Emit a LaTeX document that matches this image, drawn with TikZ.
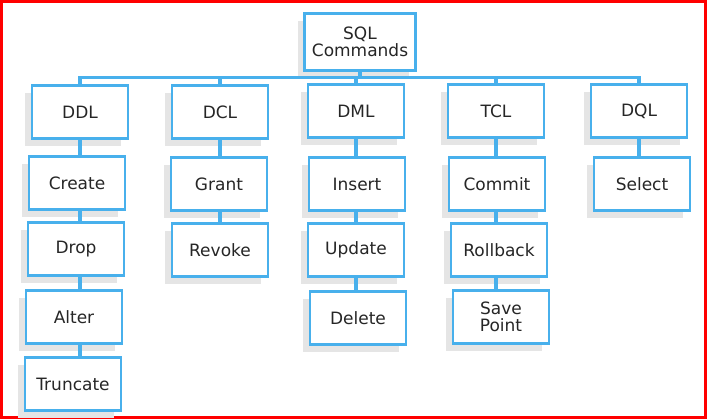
\documentclass[tikz,border=0pt]{standalone}
\usepackage{fontspec}
\setmainfont{DejaVu Sans}
\usepackage{tikz}
\usetikzlibrary{shadows}
\definecolor{sqlblue}{RGB}{72,176,236}

\begin{document}
\begin{tikzpicture}[x=1pt,y=-1pt]
    \tikzstyle{box}=[draw=sqlblue,line width=2.6pt,fill=white,minimum width=96pt,minimum height=53pt,inner sep=2pt,align=center,
      font=\fontsize{17}{16.5}\selectfont,text=black!85,
      drop shadow={shadow xshift=-7pt,shadow yshift=-8pt,fill=black!10,opacity=1}]
    \tikzstyle{link}=[draw=sqlblue,line width=3.2pt]
    \useasboundingbox (0,0) rectangle (707,419);
    \draw [red, line width=3pt] (1.5,1.5) rectangle (705.5,417.5);
    \node[box,minimum width=111pt,minimum height=57pt] (N_SQL) at (360,42) {SQL\\Commands};
    \node[box] (N_DDL) at (80,112) {DDL};
    \node[box] (N_DCL) at (220,112) {DCL};
    \node[box] (N_DML) at (356,111) {DML};
    \node[box] (N_TCL) at (496,111) {TCL};
    \node[box] (N_DQL) at (639,111) {DQL};
    \node[box] (N_Create) at (77,183) {Create};
    \node[box] (N_Drop) at (76,249) {Drop};
    \node[box] (N_Alter) at (74,317) {Alter};
    \node[box] (N_Truncate) at (73,384) {Truncate};
    \node[box] (N_Grant) at (219,184) {Grant};
    \node[box] (N_Revoke) at (220,250) {Revoke};
    \node[box] (N_Insert) at (357,184) {Insert};
    \node[box] (N_Update) at (356,250) {Update};
    \node[box] (N_Delete) at (358,318) {Delete};
    \node[box] (N_Commit) at (497,184) {Commit};
    \node[box] (N_Rollback) at (499,250) {Rollback};
    \node[box] (N_SavePoint) at (501,317) {Save\\Point};
    \node[box] (N_Select) at (642,184) {Select};
    \draw [link] (N_SQL.south) -- ++(0,6) -| (N_DDL.north);
    \draw [link] (N_SQL.south) -- ++(0,6) -| (N_DCL.north);
    \draw [link] (N_SQL.south) -- ++(0,6) -| (N_DML.north);
    \draw [link] (N_SQL.south) -- ++(0,6) -| (N_TCL.north);
    \draw [link] (N_SQL.south) -- ++(0,6) -| (N_DQL.north);
    \draw [link] (N_DDL.south) -- (N_DDL.south |- N_Create.north);
    \draw [link] (N_DDL.south |- N_Create.south) -- (N_DDL.south |- N_Drop.north);
    \draw [link] (N_DDL.south |- N_Drop.south) -- (N_DDL.south |- N_Alter.north);
    \draw [link] (N_DDL.south |- N_Alter.south) -- (N_DDL.south |- N_Truncate.north);
    \draw [link] (N_DCL.south) -- (N_DCL.south |- N_Grant.north);
    \draw [link] (N_DCL.south |- N_Grant.south) -- (N_DCL.south |- N_Revoke.north);
    \draw [link] (N_DML.south) -- (N_DML.south |- N_Insert.north);
    \draw [link] (N_DML.south |- N_Insert.south) -- (N_DML.south |- N_Update.north);
    \draw [link] (N_DML.south |- N_Update.south) -- (N_DML.south |- N_Delete.north);
    \draw [link] (N_TCL.south) -- (N_TCL.south |- N_Commit.north);
    \draw [link] (N_TCL.south |- N_Commit.south) -- (N_TCL.south |- N_Rollback.north);
    \draw [link] (N_TCL.south |- N_Rollback.south) -- (N_TCL.south |- N_SavePoint.north);
    \draw [link] (N_DQL.south) -- (N_DQL.south |- N_Select.north);
  \end{tikzpicture}
\end{document}
